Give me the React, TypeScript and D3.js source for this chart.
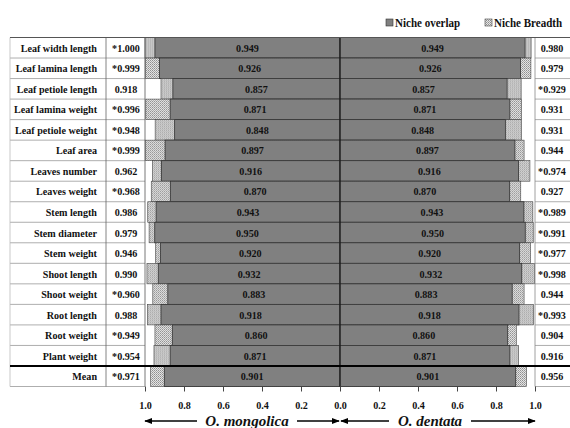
import React, { useRef, useEffect } from "react";
import * as d3 from "d3";

const traits = [
  "Leaf width length", "Leaf lamina length", "Leaf petiole length", "Leaf lamina weight",
  "Leaf petiole weight", "Leaf area", "Leaves number", "Leaves weight", "Stem length",
  "Stem diameter", "Stem weight", "Shoot length", "Shoot weight", "Root length",
  "Root weight", "Plant weight", "Mean",
];
const overlap = [0.949, 0.926, 0.857, 0.871, 0.848, 0.897, 0.916, 0.870, 0.943, 0.950, 0.920, 0.932, 0.883, 0.918, 0.860, 0.871, 0.901];
const breadthMongolica = [1.000, 0.999, 0.918, 0.996, 0.948, 0.999, 0.962, 0.968, 0.986, 0.979, 0.946, 0.990, 0.960, 0.988, 0.949, 0.954, 0.971];
const breadthDentata = [0.980, 0.979, 0.929, 0.931, 0.931, 0.944, 0.974, 0.927, 0.989, 0.991, 0.977, 0.998, 0.944, 0.993, 0.904, 0.916, 0.956];
const ticks = [0, 0.2, 0.4, 0.6, 0.8, 1.0];

const W = 570, H = 428;
const FONT = "'Liberation Serif', 'Times New Roman', serif";
const DARK = "#808080";
const SX = 0.92; // glyphs in the original are a bit narrow

const App = () => {
  const svgRef = useRef<SVGSVGElement>(null);

  useEffect(() => {
    const svg = d3.select(svgRef.current);
    svg.selectAll("*").remove();

    const top = 37.5, bottom = 386.5;
    const labelL = 10, labelR = 106, valR = 145, center = 340, rightEnd = 535;

    const y = d3.scaleBand().domain(traits).range([top, bottom]);
    const xL = d3.scaleLinear().domain([0, 1]).range([center, valR]);
    const xR = d3.scaleLinear().domain([0, 1]).range([center, rightEnd]);

    // hatch pattern
    const defs = svg.append("defs");
    const pat = defs.append("pattern").attr("id", "hatch")
      .attr("width", 2).attr("height", 2).attr("patternUnits", "userSpaceOnUse");
    pat.append("rect").attr("width", 2).attr("height", 2).attr("fill", "#e6e6e6");
    pat.append("rect").attr("width", 1).attr("height", 1).attr("fill", "#8c8c8c");
    pat.append("rect").attr("x", 1).attr("y", 1).attr("width", 1).attr("height", 1).attr("fill", "#a8a8a8");

    svg.append("rect").attr("width", W).attr("height", H).attr("fill", "#fff");

    const rows = svg.append("g").selectAll("g").data(traits).enter().append("g")
      .attr("transform", (d) => `translate(0,${y(d)})`);
    const bh = y.bandwidth();
    const ty = bh / 2 + 4;

    // table row lines (label and value columns)
    rows.append("line").attr("x1", labelL).attr("x2", valR).attr("y1", bh).attr("y2", bh)
      .attr("stroke", "#999").attr("stroke-width", 0.8);
    rows.append("line").attr("x1", rightEnd).attr("x2", W).attr("y1", bh).attr("y2", bh)
      .attr("stroke", "#999").attr("stroke-width", 0.8);

    // breadth (hatched) bars
    rows.append("rect").attr("x", (d, i) => xL(breadthMongolica[i]))
      .attr("width", (d, i) => center - xL(breadthMongolica[i]))
      .attr("height", bh).attr("fill", "url(#hatch)").attr("stroke", "#444").attr("stroke-width", 0.6);
    rows.append("rect").attr("x", center)
      .attr("width", (d, i) => xR(breadthDentata[i]) - center)
      .attr("height", bh).attr("fill", "url(#hatch)").attr("stroke", "#444").attr("stroke-width", 0.6);

    // overlap (dark) bars
    rows.append("rect").attr("x", (d, i) => xL(overlap[i]))
      .attr("width", (d, i) => center - xL(overlap[i]))
      .attr("height", bh).attr("fill", DARK).attr("stroke", "#333").attr("stroke-width", 0.8);
    rows.append("rect").attr("x", center)
      .attr("width", (d, i) => xR(overlap[i]) - center)
      .attr("height", bh).attr("fill", DARK).attr("stroke", "#333").attr("stroke-width", 0.8);

    const txt = (sel: any) => sel.attr("font-family", FONT).attr("font-weight", "bold")
      .attr("font-size", 11).attr("fill", "#111");
    const at = (x: number, yy: number) => `translate(${x},${yy}) scale(${SX},1)`;

    // trait labels
    rows.append("text").attr("transform", at(97, ty)).attr("text-anchor", "end")
      .text((d) => d).call(txt);
    // breadth values
    rows.append("text").attr("transform", at(126, ty)).attr("text-anchor", "middle")
      .text((d, i) => (breadthMongolica[i] > breadthDentata[i] ? "*" : "") + breadthMongolica[i].toFixed(3))
      .call(txt);
    rows.append("text").attr("transform", at(552, ty)).attr("text-anchor", "middle")
      .text((d, i) => (breadthDentata[i] > breadthMongolica[i] ? "*" : "") + breadthDentata[i].toFixed(3))
      .call(txt);
    // overlap values
    rows.append("text").attr("transform", (d, i) => at((xL(overlap[i]) + center) / 2, ty))
      .attr("text-anchor", "middle").text((d, i) => overlap[i].toFixed(3)).call(txt);
    rows.append("text").attr("transform", (d, i) => at((xR(overlap[i]) + center) / 2, ty))
      .attr("text-anchor", "middle").text((d, i) => overlap[i].toFixed(3)).call(txt);

    // vertical lines
    const vline = (x: number, c: string, w: number) =>
      svg.append("line").attr("x1", x).attr("x2", x).attr("y1", top).attr("y2", bottom)
        .attr("stroke", c).attr("stroke-width", w);
    vline(labelL, "#bbb", 0.8);
    vline(labelR, "#666", 0.8);
    vline(valR, "#555", 0.8);
    vline(center, "#111", 1);
    vline(rightEnd, "#888", 0.8);

    // top line and thick mean separator
    svg.append("line").attr("x1", labelL).attr("x2", W).attr("y1", top).attr("y2", top)
      .attr("stroke", "#555").attr("stroke-width", 1.2);
    const meanY = y("Mean") as number;
    svg.append("line").attr("x1", labelL).attr("x2", W).attr("y1", meanY).attr("y2", meanY)
      .attr("stroke", "#000").attr("stroke-width", 2);

    // axes
    const axL = svg.append("g").attr("transform", `translate(0,${bottom})`)
      .call(d3.axisBottom(xL).tickValues(ticks).tickFormat(d3.format(".1f")).tickSizeOuter(0).tickSize(5));
    const axR = svg.append("g").attr("transform", `translate(0,${bottom})`)
      .call(d3.axisBottom(xR).tickValues(ticks.slice(1)).tickFormat(d3.format(".1f")).tickSizeOuter(0).tickSize(5));
    [axL, axR].forEach((ax) => {
      ax.select(".domain").remove();
      ax.selectAll("line").attr("stroke", "#444");
      ax.selectAll("text").attr("y", 0).attr("dy", null).attr("transform", at(0, 22)).call(txt);
    });

    // arrows
    const ah = defs.append("marker").attr("id", "ah").attr("viewBox", "0 0 10 10")
      .attr("refX", 9).attr("refY", 5).attr("markerWidth", 5).attr("markerHeight", 5)
      .attr("orient", "auto-start-reverse");
    ah.append("path").attr("d", "M0,1 L10,5 L0,9 Z").attr("fill", "#000");
    const ay = 421;
    const arrow = (x1: number, x2: number, label: string, tx: number, tw: number) => {
      svg.append("line").attr("x1", x1).attr("x2", tx - tw / 2 - 7).attr("y1", ay).attr("y2", ay)
        .attr("stroke", "#000").attr("stroke-width", 1.6).attr("marker-start", "url(#ah)");
      svg.append("line").attr("x1", tx + tw / 2 + 7).attr("x2", x2).attr("y1", ay).attr("y2", ay)
        .attr("stroke", "#000").attr("stroke-width", 1.6).attr("marker-end", "url(#ah)");
      svg.append("text").attr("transform", `translate(${tx},${ay + 5})`).attr("text-anchor", "middle")
        .attr("font-family", FONT).attr("font-weight", "bold").attr("font-style", "italic")
        .attr("font-size", 15).attr("fill", "#111").text(label);
    };
    arrow(valR, center - 1, "O. mongolica", 247, 86);
    arrow(center + 1, rightEnd, "O. dentata", 430, 68);

    // legend
    const lg = svg.append("g").attr("font-family", FONT).attr("font-weight", "bold").attr("font-size", 12);
    lg.append("rect").attr("x", 386).attr("y", 19).attr("width", 7).attr("height", 7)
      .attr("fill", DARK).attr("stroke", "#333").attr("stroke-width", 0.6);
    lg.append("text").attr("transform", `translate(395,26.5) scale(${SX},1)`).attr("fill", "#111").text("Niche overlap");
    lg.append("rect").attr("x", 485).attr("y", 19).attr("width", 7).attr("height", 7)
      .attr("fill", "url(#hatch)").attr("stroke", "#444").attr("stroke-width", 0.6);
    lg.append("text").attr("transform", `translate(494,26.5) scale(${SX},1)`).attr("fill", "#111").text("Niche Breadth");
  }, []);

  return (
    <svg ref={svgRef} width={W} height={H}
      style={{ position: "absolute", left: 0, top: 0, display: "block" }} />
  );
};

export default App;
